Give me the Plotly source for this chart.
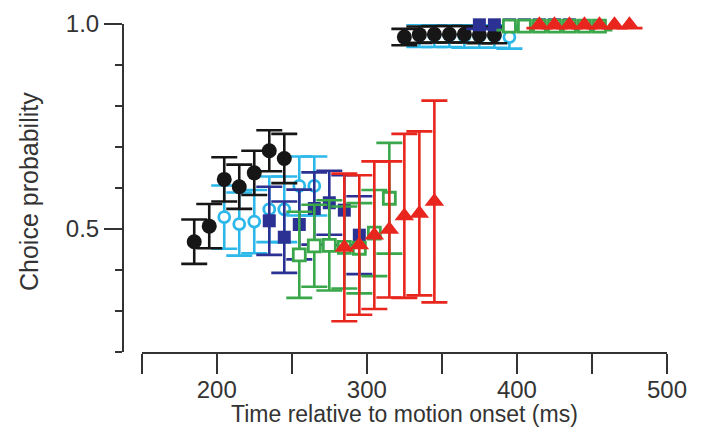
import plotly.graph_objects as go

# ---- data ----
black_t_lo = [185, 195, 205, 215, 225, 235, 245]
black_p_lo = [0.469, 0.507, 0.621, 0.603, 0.637, 0.691, 0.672]
black_e_lo = [0.054, 0.054, 0.054, 0.054, 0.054, 0.050, 0.060]
black_t_hi = [325, 335, 345, 355, 365, 375, 385]
black_p_hi = [0.968, 0.974, 0.975, 0.975, 0.975, 0.973, 0.973]
black_e_hi = [0.020, 0.020, 0.020, 0.020, 0.020, 0.020, 0.020]

cyan_t_lo = [205, 215, 225, 235, 245, 255, 265]
cyan_p_lo = [0.529, 0.512, 0.518, 0.548, 0.548, 0.605, 0.605]
cyan_e_lo = [0.077, 0.077, 0.077, 0.080, 0.080, 0.072, 0.072]
cyan_t_hi = [335, 345, 355, 365, 375, 385, 395]
cyan_p_hi = [0.972, 0.972, 0.972, 0.970, 0.970, 0.970, 0.968]
cyan_e_hi = [0.028, 0.028, 0.028, 0.028, 0.028, 0.028, 0.028]

navy_t_lo = [235, 245, 255, 265, 275, 285, 295]
navy_p_lo = [0.520, 0.480, 0.511, 0.550, 0.564, 0.546, 0.485]
navy_e_lo = [0.083, 0.087, 0.085, 0.088, 0.078, 0.085, 0.095]
navy_t_hi = [375, 385, 395, 405, 415, 425, 435]
navy_p_hi = [0.998, 0.998, 0.998, 0.998, 0.998, 0.998, 0.998]
navy_e_hi = [0.010, 0.010, 0.010, 0.010, 0.010, 0.010, 0.010]

green_t_lo = [255, 265, 275, 285, 295, 305, 315]
green_p_lo = [0.437, 0.459, 0.460, 0.455, 0.453, 0.490, 0.575]
green_e_lo = [0.105, 0.100, 0.110, 0.100, 0.110, 0.105, 0.135]
green_t_hi = [395, 405, 415, 425, 435, 445, 455]
green_p_hi = [0.995, 0.995, 0.995, 0.995, 0.995, 0.995, 0.995]
green_e_hi = [0.010, 0.010, 0.010, 0.010, 0.010, 0.010, 0.010]

red_t_lo = [285, 295, 305, 315, 325, 335, 345]
red_p_lo = [0.455, 0.461, 0.485, 0.499, 0.532, 0.538, 0.567]
red_e_lo = [0.180, 0.170, 0.180, 0.166, 0.200, 0.200, 0.246]
red_t_hi = [415, 425, 435, 445, 455, 465, 475]
red_p_hi = [0.998, 0.998, 0.998, 0.998, 0.998, 0.998, 0.998]
red_e_hi = [0.008, 0.008, 0.008, 0.008, 0.008, 0.008, 0.008]

x_tickvals = [150, 200, 250, 300, 350, 400, 450, 500]
x_ticktext = ["", "200", "", "300", "", "400", "", "500"]
y_tickvals = [0.5, 1.0]
y_ticktext = ["0.5", "1.0"]
y_minorvals = [0.2, 0.3, 0.4, 0.6, 0.7, 0.8, 0.9]

x_title = "Time relative to motion onset (ms)"
y_title = "Choice probability"

BLACK = "#161616"
CYAN = "#2db8ea"
NAVY = "#2b3192"
GREEN = "#3aa84a"
RED = "#e8261e"
AXIS = "#333333"
FONT = "Liberation Sans, Arial, sans-serif"


def series(t, p, e, color, symbol, size, fill, lw):
    return go.Scatter(
        x=t, y=p, mode="markers",
        error_y=dict(type="data", array=e, visible=True, color=color,
                     thickness=2.6, width=13),
        marker=dict(symbol=symbol, size=size, color=fill,
                    line=dict(color=color, width=lw)),
        showlegend=False, cliponaxis=False,
    )


fig = go.Figure()
for hi in (False, True):
    sets = [
        (cyan_t_hi, cyan_p_hi, cyan_e_hi) if hi else (cyan_t_lo, cyan_p_lo, cyan_e_lo),
        (black_t_hi, black_p_hi, black_e_hi) if hi else (black_t_lo, black_p_lo, black_e_lo),
        (navy_t_hi, navy_p_hi, navy_e_hi) if hi else (navy_t_lo, navy_p_lo, navy_e_lo),
        (green_t_hi, green_p_hi, green_e_hi) if hi else (green_t_lo, green_p_lo, green_e_lo),
        (red_t_hi, red_p_hi, red_e_hi) if hi else (red_t_lo, red_p_lo, red_e_lo),
    ]
    styles = [
        (CYAN, "circle", 11, "white", 2.8),
        (BLACK, "circle", 15, BLACK, 0),
        (NAVY, "square", 13, NAVY, 0),
        (GREEN, "square", 12, "white", 2.8),
        (RED, "triangle-up", 17, RED, 0),
    ]
    for (t, p, e), (c, sym, sz, fill, lw) in zip(sets, styles):
        fig.add_trace(series(t, p, e, c, sym, sz, fill, lw))

# page body adds an 8px offset, so the figure is 8px smaller than the window
W, H = 695, 426
ml, mr, mt, mb = 115, 36, 16, 82
pw = W - ml - mr
ph = H - mt - mb
xstart = (133.7 - ml) / pw

fig.update_layout(
    width=W, height=H,
    margin=dict(l=ml, r=mr, t=mt, b=mb, pad=0, autoexpand=False),
    plot_bgcolor="white", paper_bgcolor="white",
    font=dict(family=FONT, color=AXIS, size=24),
    xaxis=dict(
        domain=[xstart, 1], range=[150, 500], automargin=False,
        showline=True, linecolor=AXIS, linewidth=2,
        ticks="outside", ticklen=20, tickwidth=2, tickcolor=AXIS,
        tickmode="array", tickvals=x_tickvals, ticktext=x_ticktext,
        tickfont=dict(size=24, family=FONT, color=AXIS),
        ticklabelstandoff=-5,
        showgrid=False, zeroline=False,
    ),
    yaxis=dict(
        anchor="free", position=0, range=[0.2, 1.0], automargin=False,
        showline=True, linecolor=AXIS, linewidth=2,
        ticks="outside", ticklen=18, tickwidth=2, tickcolor=AXIS,
        tickmode="array", tickvals=y_tickvals, ticktext=y_ticktext,
        tickfont=dict(size=24, family=FONT, color=AXIS),
        minor=dict(tickmode="array", tickvals=y_minorvals, ticks="outside",
                   ticklen=7, tickwidth=2, tickcolor=AXIS, showgrid=False),
        showgrid=False, zeroline=False,
    ),
    annotations=[
        dict(text=x_title, xref="paper", yref="paper",
             x=(396 - ml) / pw, y=(ph + mt - 406) / ph,
             xanchor="center", yanchor="middle", showarrow=False,
             font=dict(size=23, family=FONT, color=AXIS)),
        dict(text=y_title, xref="paper", yref="paper",
             x=(21 - ml) / pw, y=(ph + mt - 184) / ph, textangle=-90,
             xanchor="center", yanchor="middle", showarrow=False,
             font=dict(size=25, family=FONT, color=AXIS)),
    ],
)

fig.write_html("out.html")
